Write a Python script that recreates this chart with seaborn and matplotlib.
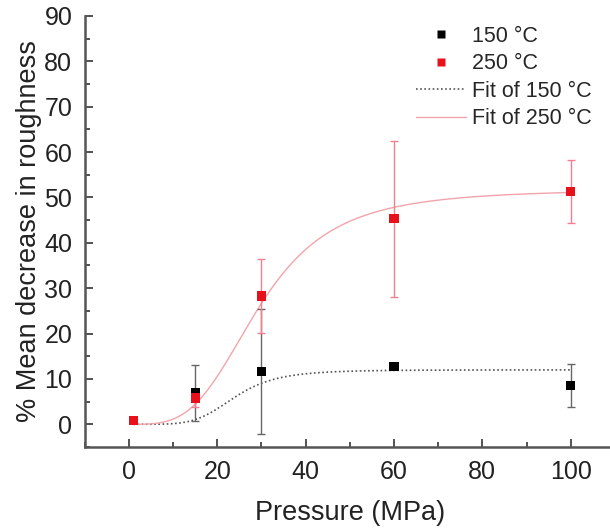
import numpy as np
import pandas as pd
import matplotlib
matplotlib.use("Agg")
import matplotlib.pyplot as plt
import seaborn as sns
from matplotlib.ticker import MultipleLocator

# measured data
pressure = [1, 15, 30, 60, 100]
mean_150 = [0.9, 6.9, 11.7, 12.8, 8.6]
err_150 = [0.4, 6.2, 13.8, 0.6, 4.7]
mean_250 = [0.9, 5.8, 28.3, 45.3, 51.3]
err_250 = [0.5, 2.0, 8.1, 17.2, 7.0]

# Hill fit parameters (plateau, half point, exponent)
fit_150 = (12.0, 24.0, 5.0)
fit_250 = (51.8, 29.5, 3.5)


def hill(x, a, k, n):
    return a * x**n / (k**n + x**n)


sns.set_theme(style="ticks")
plt.rcParams["font.family"] = ["Liberation Sans", "DejaVu Sans"]

df = pd.DataFrame({"Pressure": pressure * 2,
                   "Value": mean_150 + mean_250,
                   "Err": err_150 + err_250,
                   "Series": ["150 °C"] * 5 + ["250 °C"] * 5})

xs = np.linspace(1, 100, 300)
fits = pd.DataFrame({"Pressure": np.concatenate([xs, xs]),
                     "Value": np.concatenate([hill(xs, *fit_150), hill(xs, *fit_250)]),
                     "Series": ["Fit of 150 °C"] * len(xs) + ["Fit of 250 °C"] * len(xs)})

fig = plt.figure(figsize=(6.1, 5.29), dpi=100)
ax = fig.add_axes([0.139, 0.155, 0.869, 0.815])

# fit curves
sns.lineplot(data=fits[fits.Series == "Fit of 150 °C"], x="Pressure", y="Value",
             color="#555555", lw=1.2, ls=(0, (1, 1.5)), ax=ax, label="Fit of 150 °C", zorder=2)
sns.lineplot(data=fits[fits.Series == "Fit of 250 °C"], x="Pressure", y="Value",
             color="#f2a4ac", lw=1.0, ax=ax, label="Fit of 250 °C", zorder=2)

# error bars
ax.errorbar(pressure, mean_150, yerr=err_150, fmt="none", ecolor="#666666",
            elinewidth=1.0, capsize=3, capthick=1.0, zorder=3)
ax.errorbar(pressure, mean_250, yerr=err_250, fmt="none", ecolor="#f08090",
            elinewidth=1.0, capsize=3, capthick=1.0, zorder=3)

# markers
sns.scatterplot(data=df, x="Pressure", y="Value", hue="Series",
                palette={"150 °C": "black", "250 °C": "#e8101a"},
                marker="s", s=45, edgecolor="none", ax=ax, zorder=4)

ax.set_xlim(-10, 110)
ax.set_ylim(-5, 90)
ax.xaxis.set_major_locator(MultipleLocator(20))
ax.xaxis.set_minor_locator(MultipleLocator(10))
ax.yaxis.set_major_locator(MultipleLocator(10))
ax.yaxis.set_minor_locator(MultipleLocator(5))
ax.tick_params(which="both", direction="in", colors="#444444", labelcolor="#222222")
ax.tick_params(which="major", length=6, width=1.3, labelsize=18, pad=9)
ax.tick_params(which="minor", length=3.5, width=1.3)
ax.set_xticks([0, 20, 40, 60, 80, 100])
ax.set_xticklabels(["0", "20", "40", "60", "80", "100"])
for s in ["top", "right"]:
    ax.spines[s].set_visible(False)
for s in ["left", "bottom"]:
    ax.spines[s].set_color("#555555")
    ax.spines[s].set_linewidth(1.8)
ax.set_xlabel("Pressure (MPa)", fontsize=19.5, color="#222222", labelpad=12)
ax.set_ylabel("% Mean decrease in roughness", fontsize=19.5, color="#222222", labelpad=2)

handles, labels = ax.get_legend_handles_labels()
order = [labels.index(l) for l in ["150 °C", "250 °C", "Fit of 150 °C", "Fit of 250 °C"]]
ax.legend([handles[i] for i in order], [labels[i] for i in order],
          loc="upper right", bbox_to_anchor=(0.993, 1.022), frameon=False,
          fontsize=15.5, handlelength=2.3, handletextpad=0.3,
          labelspacing=0.3, markerscale=0.8)

fig.savefig("out.png", dpi=100)
